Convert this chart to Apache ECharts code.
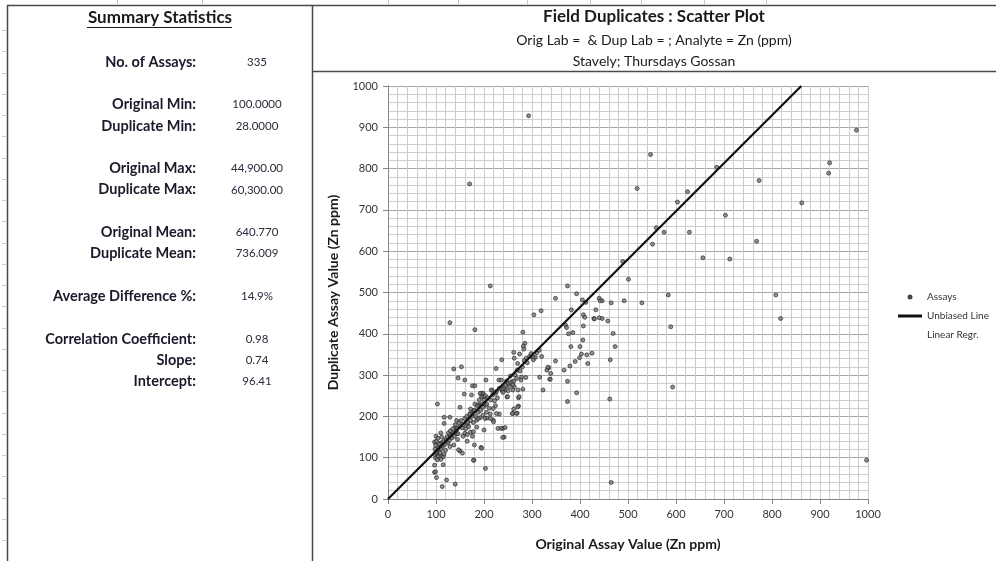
<!DOCTYPE html>
<html><head><meta charset="utf-8">
<script src="https://cdn.jsdelivr.net/npm/echarts@6/dist/echarts.min.js"></script>
<style>html,body{margin:0;padding:0;background:#fff}#c{width:996px;height:561px}</style>
</head><body><div id="c"></div>
<script>
// ---- data ----
const origHigh = [293,170,213,374,393,349,440,405,446,465,489,501,976,547,920,918,685,519,624,773,603,862,703,559,575,628,551,768,656,712,584,808,492,529,818,589,593,997];
const dupHigh  = [928,763,516,516,497,486,486,482,480,475,575,532,893,834,814,789,803,752,744,771,719,717,687,657,646,646,617,624,584,581,494,494,480,475,437,417,271,94];

const origMid = [304,319,382,407,410,433,429,446,458,370, 372,376,385,407,406,469,473,381,400,403, 416,425,399,390,379,367,374,374,393,463, 462,465,349,331,335,339,337,323,316,310, 307,302,285,282,281,274,270,288,283,284, 262,412,442,430,440,303,333,338,414];
const dupMid  = [446,456,458,446,440,458,437,437,431,421, 415,400,403,419,385,401,369,369,369,351, 328,353,342,333,322,312,285,236,257,337, 242,40,334,312,318,304,290,264,295,354, 343,343,377,370,404,351,328,341,363,335, 355,476,480,436,439,337,319,290,349];

const origCluster = [237,225,263,258,260,271,272,281,260,269, 272,248,244,242,231,236,238,217,204,176, 160,153,137,146,129,181,232,219,239,242, 235,203,194,179,150,155,140,113,122,101, 97,97,99,100,97,103,117,117,150,172, 165,178,185,190,194,196,195,192,206,203, 213,200,224,219,172,160,150,141,143,129, 122,113,110,107,105,112,115,129,137,145, 156,165,165,176,178,185,247,250,253,256, 263,249,215,198,181,269,278,287,277,129, 143,159,174,192,199,181,188,171,180,188, 198,205,202,213,220,226,229,244,239,224, 238,259,268,270,262,273,260,262,180,195, 178,147,115,117,110,99];
const dupCluster  = [337,316,341,284,264,264,245,266,207,208, 225,247,264,270,288,288,262,263,288,274, 288,320,315,293,427,410,206,191,171,150, 171,74,125,94,116,111,36,30,46,52, 65,82,99,152,138,230,198,183,222,218, 181,213,191,228,254,256,247,197,196,227, 206,167,226,219,162,159,175,174,158,151, 140,137,128,119,104,104,83,127,131,144, 152,156,140,152,163,174,286,278,272,282, 272,248,264,256,274,312,295,294,288,198, 190,254,252,256,248,230,228,207,213,210, 203,210,195,195,187,207,171,173,149,256, 266,207,207,223,218,248,277,285,131,123, 94,119,102,109,96,66];

const origDense = [102,104,106,108,109,111,114,116,118,120, 121,123,125,126,128,130,131,133,135,136, 138,140,142,144,146,148,152,155,157,160, 162,164,166,168,170,172,175,178,180,183, 186,188,190,193,196,198,200,203,206,208, 211,214,218,222,226,228,232,240,245,250, 255,265,268,275,280,290,295,298,315,320, 97,98,99,100,101,103,104,106,110,112];
const dupDense  = [110,118,125,112,135,120,128,140,132,118, 145,150,136,160,142,165,155,148,170,160, 152,180,165,170,158,185,190,172,180,195, 170,200,185,175,205,190,200,185,215,200, 225,195,240,215,230,222,240,250,230,245, 220,240,252,238,260,245,268,258,275,262, 298,300,292,310,320,330,345,352,360,345, 108,121,130,113,140,95,147,133,160,150];

const unbiasedX = [0, 861];
const unbiasedY = [0, 1000];

const statLabels = ['No. of Assays:','Original Min:','Duplicate Min:','Original Max:','Duplicate Max:','Original Mean:','Duplicate Mean:','Average Difference %:','Correlation Coefficient:','Slope:','Intercept:'];
const statValues = ['335','100.0000','28.0000','44,900.00','60,300.00','640.770','736.009','14.9%','0.98','0.74','96.41'];

const chartTitle = 'Field Duplicates : Scatter Plot';
const chartSub1 = 'Orig Lab =  & Dup Lab = ; Analyte = Zn (ppm)';
const chartSub2 = 'Stavely; Thursdays Gossan';
const xName = 'Original Assay Value (Zn ppm)';
const yName = 'Duplicate Assay Value (Zn ppm)';
const legendNames = ['Assays','Unbiased Line','Linear Regr.'];

// ---- build ----
const origAll = origHigh.concat(origMid, origCluster, origDense);
const dupAll = dupHigh.concat(dupMid, dupCluster, dupDense);
const assayPts = origAll.map((v,i)=>[v, dupAll[i]]);
const linePts = unbiasedX.map((v,i)=>[v, unbiasedY[i]]);

const FONT = 'Lato, "Open Sans", sans-serif';
const graphics = [];
const frame = '#4a4a4a';
function ln(x1,y1,x2,y2,c,w){graphics.push({type:'line',silent:true,shape:{x1,y1,x2,y2},style:{stroke:c,lineWidth:w||1}});}
function tx(x,y,t,font,align,fill){graphics.push({type:'text',silent:true,style:{x,y,text:t,font,fill:fill||'#1a1a1a',align:align||'center',verticalAlign:'middle'}});}
ln(7,5.5,996,5.5,frame,1.5);
ln(7.5,5,7.5,561,frame,1.5);
ln(312.5,5,312.5,561,frame,1.5);
ln(312,71.5,996,71.5,frame,1.5);
for(let k=0;k<25;k++){const y=Math.round(30+21.25*k)+0.5; if(y<561) ln(2,y,6,y,'#c8c8c8',1);}
[117,202,388,458,527,590,641,704,766].forEach(x=>ln(x+0.5,0,x+0.5,4,'#c8c8c8',1));

tx(160,18,'Summary Statistics','bold 17px '+FONT,'center');
ln(87,27.5,232,27.5,'#1a1a1a',1);
const rowIdx = [0,2,3,5,6,8,9,11,13,14,15];
statLabels.forEach((t,i)=>{
  const y = 62 + 21.3*rowIdx[i];
  tx(196,y,t,'bold 14.5px '+FONT,'right','#1a1a2a');
  tx(257,y,statValues[i],'11.5px '+FONT,'center','#2a2a3a');
});
tx(654,17,chartTitle,'bold 17px '+FONT,'center');
tx(654,40,chartSub1,'14px '+FONT,'center');
tx(654,61,chartSub2,'14px '+FONT,'center');

const chart = echarts.init(document.getElementById('c'), null, {renderer:'canvas'});
chart.setOption({
  backgroundColor:'#fff',
  animation:false,
  grid:{left:388,top:86,width:480,height:413,containLabel:false},
  xAxis:{
    type:'value',min:0,max:1000,interval:100,
    name:xName,nameLocation:'middle',nameGap:38,
    nameTextStyle:{fontFamily:FONT,fontWeight:'bold',fontSize:14,color:'#1a1a1a'},
    axisLine:{show:true,lineStyle:{color:'#868686',width:1}},
    axisTick:{show:true,length:5,lineStyle:{color:'#868686'}},
    axisLabel:{fontFamily:FONT,fontSize:11,color:'#333',margin:10,formatter:v=>String(v)},
    splitLine:{show:true,lineStyle:{color:'#cdcdcd',width:1}},
    minorTick:{show:false,splitNumber:5},
    minorSplitLine:{show:true,lineStyle:{color:'#cdcdcd',width:1}}
  },
  yAxis:{
    type:'value',min:0,max:1000,interval:100,
    name:yName,nameLocation:'middle',nameGap:48,
    nameTextStyle:{fontFamily:FONT,fontWeight:'bold',fontSize:14,color:'#1a1a1a'},
    axisLine:{show:true,lineStyle:{color:'#868686',width:1}},
    axisTick:{show:true,length:5,lineStyle:{color:'#868686'}},
    axisLabel:{fontFamily:FONT,fontSize:11,color:'#333',margin:10,formatter:v=>String(v)},
    splitLine:{show:true,lineStyle:{color:'#a6a6a6',width:1}},
    minorTick:{show:false,splitNumber:5},
    minorSplitLine:{show:true,lineStyle:{color:'#cdcdcd',width:1}}
  },
  legend:{
    orient:'vertical',left:893,top:287,itemWidth:24,itemHeight:3,itemGap:9,
    textStyle:{fontFamily:FONT,fontSize:10,color:'#333'},
    data:[{name:legendNames[0],icon:'circle'},{name:legendNames[1],icon:'rect'},{name:legendNames[2],icon:'rect'}],
    selectedMode:false
  },
  series:[
    {name:legendNames[0],type:'scatter',data:assayPts,symbol:'circle',symbolSize:4,
     itemStyle:{color:'#777',borderColor:'#1e1e1e',borderWidth:0.8},z:3},
    {name:legendNames[1],type:'line',data:linePts,symbol:'none',
     lineStyle:{color:'#111',width:2.2},itemStyle:{color:'#111'},z:4},
    {name:legendNames[2],type:'line',data:[],symbol:'none',
     lineStyle:{color:'rgba(0,0,0,0)',width:0},itemStyle:{color:'rgba(0,0,0,0)'}}
  ],
  graphic: graphics
});
</script></body></html>
